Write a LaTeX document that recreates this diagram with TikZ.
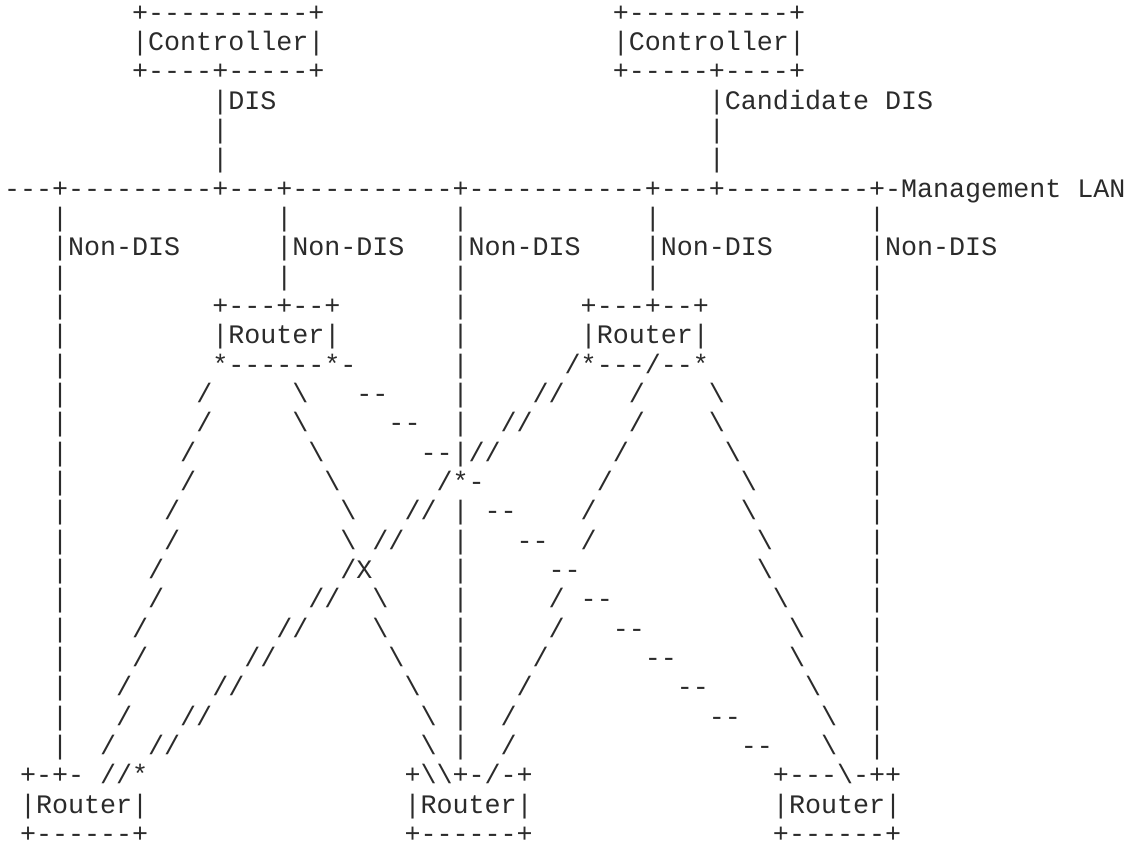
\documentclass[tikz,border=0pt]{standalone}
\usepackage{fontspec}
\setmonofont{Liberation Mono}
\definecolor{ink}{HTML}{2b2b2b}
\newcommand{\bsl}{\textbackslash}
\tikzset{
  asc/.style={font=\ttfamily\fontsize{10pt}{11pt}\selectfont,text=ink,anchor=base west,inner sep=0pt,outer sep=0pt},
  ascb/.style={asc,text depth=0pt},
}
\begin{document}
\begin{tikzpicture}[x=6pt,y=-10.985pt]
\useasboundingbox (-0.25,0.274) rectangle (70.66,29.05);

% controllers
\node[asc] (ctlA-top) at (8,1) {+----------+};
\node[asc] (ctlA) at (8,2) {|Controller|};
\node[asc] (ctlA-bot) at (8,3) {+----+-----+};
\node[asc] (ctlB-top) at (38,1) {+----------+};
\node[asc] (ctlB) at (38,2) {|Controller|};
\node[asc] (ctlB-bot) at (38,3) {+-----+----+};
\node[asc] (dis) at (13,4) {|DIS};
\node[asc] (cdis) at (44,4) {|Candidate DIS};
\foreach \r in {5,6} {
  \node[asc] (upA-\r) at (13,\r) {|};
  \node[asc] (upB-\r) at (44,\r) {|};
}

% management LAN
\node[asc] (lan) at (0,7) {---+---------+---+----------+-----------+---+---------+-Management LAN};
\foreach \c in {3,17,28,40,54} {
  \node[asc] (drop\c-8) at (\c,8) {|};
  \node[asc] (nondis\c) at (\c,9) {|Non-DIS};
  \node[asc] (drop\c-10) at (\c,10) {|};
}
\foreach \r in {11,...,26} {
  \node[asc] (vA-\r) at (3,\r) {|};
  \node[asc] (vE-\r) at (54,\r) {|};
}
\foreach \r in {11,12,13,14,15,16,18,19,20,21,22,23,24,25,26}
  \node[asc] (vD-\r) at (28,\r) {|};

% upper routers
\node[asc] (rA-top) at (13,11) {+---+--+};
\node[asc] (rA) at (13,12) {|Router|};
\node[asc] (rA-bot) at (13,13) {*------*-};
\node[asc] (rB-top) at (36,11) {+---+--+};
\node[asc] (rB) at (36,12) {|Router|};
\node[asc] (rB-bot) at (35,13) {/*---/--*};

% links
\foreach \c/\r in {12/14,12/15,11/16,11/17,10/18,10/19,9/20,9/21,8/22,8/23,7/24,7/25,6/26}
  \node[asc] (sA-\r) at (\c,\r) {/};
\foreach \c/\r in {18/14,18/15,19/16,20/17,21/18,21/19,23/21,23/22,24/23,25/24,26/25,26/26}
  \node[asc] (bA-\r) at (\c,\r) {\bsl};
\foreach \c/\r in {9/26,11/25,13/24,15/23,17/22,19/21,23/19,25/18,29/16,31/15,33/14}
  \node[asc] (dd-\r) at (\c,\r) {//};
\foreach \c/\r in {22/14,24/15,26/16,30/18,32/19,34/20,36/21,38/22,40/23,42/24,44/25,46/26}
  \node[asc] (hh-\r) at (\c,\r) {--};
\foreach \c/\r in {39/14,39/15,38/16,37/17,36/18,36/19,34/21,34/22,33/23,32/24,31/25,31/26}
  \node[asc] (sB-\r) at (\c,\r) {/};
\foreach \c/\r in {44/14,44/15,45/16,46/17,46/18,47/19,47/20,48/21,49/22,49/23,50/24,51/25,51/26}
  \node[asc] (bB-\r) at (\c,\r) {\bsl};
\node[asc] (hub) at (27,17) {/*-};
\node[asc] (cross) at (21,20) {/X};

% lower routers
\node[asc] (rC-top) at (1,27) {+-+- //*};
\node[asc] (rC) at (1,28) {|Router|};
\node[ascb] (rC-bot) at (1,29) {+------+};
\node[asc] (rD-top) at (25,27) {+\bsl\bsl+-/-+};
\node[asc] (rD) at (25,28) {|Router|};
\node[ascb] (rD-bot) at (25,29) {+------+};
\node[asc] (rE-top) at (48,27) {+---\bsl-++};
\node[asc] (rE) at (48,28) {|Router|};
\node[ascb] (rE-bot) at (48,29) {+------+};
\end{tikzpicture}
\end{document}
